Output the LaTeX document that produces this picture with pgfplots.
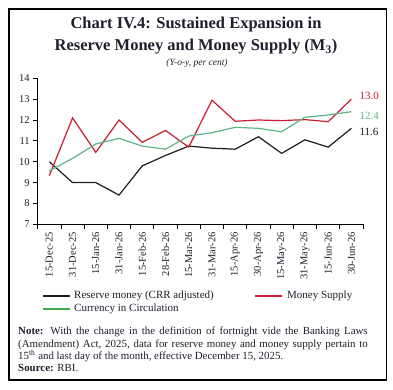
\documentclass[border=0pt]{standalone}
\usepackage{pgfplots}
\pgfplotsset{compat=1.18}
\usepackage{fontspec}
\setmainfont{Liberation Serif}

\definecolor{rmblack}{RGB}{30,30,30}
\definecolor{msred}{RGB}{200,30,50}
\definecolor{cicgreen}{RGB}{95,180,135}
\definecolor{cicleg}{RGB}{70,170,75}
\definecolor{txt}{RGB}{35,30,45}

\begin{document}
\begin{tikzpicture}[x=1pt,y=1pt]
\useasboundingbox (0,0) rectangle (393,390);
\fill[white] (0,0) rectangle (393,390);
\draw[black,line width=1.4pt] (9,381) rectangle (386.5,10);

% titles
\node[font=\fontsize{16.5}{18}\selectfont\bfseries,text=txt] at (196,365) {Chart IV.4: Sustained Expansion in};
\node[font=\fontsize{16.5}{18}\selectfont\bfseries,text=txt] at (196,343) {Reserve Money and Money Supply (M\textsubscript{3})};
\node[font=\fontsize{9.5}{10}\selectfont\itshape,text=txt] at (197,327) {(Y-o-y, per cent)};

\begin{axis}[
  scale only axis,
  width=325.3pt, height=146pt,
  at={(37.7pt,165.7pt)}, anchor=south west,
  xmin=-0.5, xmax=13.5, ymin=7, ymax=14,
  axis x line*=bottom, axis y line*=left,
  axis line style={black,line width=0.8pt},
  tick align=outside,
  ytick={7,...,14},
  xtick={0,...,13},
  xticklabels={15-Dec-25,31-Dec-25,15-Jan-26,31-Jan-26,15-Feb-26,28-Feb-26,15-Mar-26,31-Mar-26,15-Apr-26,30-Apr-26,15-May-26,31-May-26,15-Jun-26,30-Jun-26},
  minor xtick={-0.5,0.5,...,13.5},
  major x tick style={draw=none},
  minor x tick style={black,line width=0.8pt},
  major y tick style={black,line width=0.8pt},
  major tick length=4.5pt, minor tick length=4.5pt,
  x tick label style={rotate=90,anchor=east,font=\fontsize{10.5}{11}\selectfont,text=txt},
  y tick label style={font=\fontsize{10.5}{11}\selectfont,text=txt},
  /pgf/number format/assume math mode=true,
  clip=false,
]
% Reserve money (CRR adjusted)
\addplot[rmblack,line width=1.2pt] coordinates {
 (0,10.0) (1,9.0) (2,9.0) (3,8.4) (4,9.8) (5,10.3) (6,10.75)
 (7,10.65) (8,10.6) (9,11.2) (10,10.4) (11,11.05) (12,10.7) (13,11.6)};
% Money supply
\addplot[msred,line width=1.2pt] coordinates {
 (0,9.33) (1,12.1) (2,10.45) (3,12.0) (4,10.93) (5,11.5) (6,10.7)
 (7,12.95) (8,11.94) (9,12.0) (10,11.97) (11,12.02) (12,11.92) (13,13.0)};
% Currency in circulation
\addplot[cicgreen,line width=1.2pt] coordinates {
 (0,9.56) (1,10.16) (2,10.85) (3,11.12) (4,10.75) (5,10.6) (6,11.23)
 (7,11.39) (8,11.65) (9,11.6) (10,11.44) (11,12.13) (12,12.24) (13,12.4)};

\node[anchor=west,text=msred,font=\fontsize{11}{12}\selectfont] at (axis cs:13.2,13.17) {13.0};
\node[anchor=west,text=cicgreen,font=\fontsize{11}{12}\selectfont] at (axis cs:13.2,12.21) {12.4};
\node[anchor=west,text=rmblack,font=\fontsize{11}{12}\selectfont] at (axis cs:13.2,11.44) {11.6};
\end{axis}

% legend
\begin{scope}[every node/.style={anchor=west,inner sep=0pt,font=\fontsize{11}{13}\selectfont,text=txt}]
  \draw[rmblack,line width=1.6pt] (43,94) -- (70,94);
  \node at (74,94) {Reserve money (CRR adjusted)};
  \draw[msred,line width=1.6pt] (255,94) -- (282,94);
  \node at (287,94) {Money Supply};
  \draw[cicleg,line width=1.6pt] (43,81) -- (70,81);
  \node at (74,81) {Currency in Circulation};
\end{scope}

% note and source
\node[anchor=north west,text width=349.5pt,align=justify,inner sep=0pt,
      font=\fontsize{10.9}{12.3}\selectfont,text=txt] at (18,63) {%
\textbf{Note:} With the change in the definition of fortnight vide the Banking Laws\linebreak
(Amendment) Act, 2025, data for reserve money and money supply pertain to\linebreak
15\textsuperscript{th} and last day of the month, effective December 15, 2025.\\
\textbf{Source:} RBI.};
\end{tikzpicture}
\end{document}
